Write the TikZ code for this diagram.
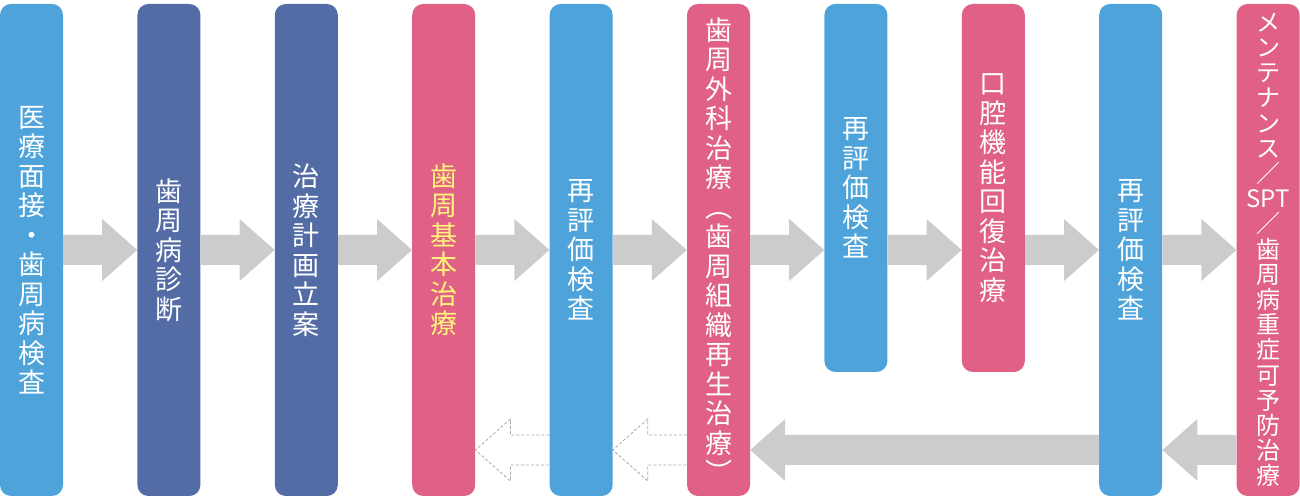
\documentclass[tikz,border=0pt]{standalone}
\usepackage{fontspec}
\setmainfont{Noto Sans CJK JP}
\usepackage{tikz}
\usetikzlibrary{calc,positioning}

\definecolor{stageblue}{HTML}{4EA3DA}
\definecolor{stagenavy}{HTML}{546CA6}
\definecolor{stagepink}{HTML}{E06086}
\definecolor{flowgray}{HTML}{CCCCCC}
\definecolor{dashgray}{HTML}{A8A8A8}
\definecolor{markyellow}{HTML}{FFF47A}

\begin{document}
\begin{tikzpicture}[x=1pt,y=1pt]
	\tikzset{
		stage/.style={rounded corners=11pt,minimum width=63pt,minimum height=492pt,inner sep=0pt,
			text=white,align=center,font=\fontsize{27}{29.5}\selectfont},
		shortstage/.style={stage,minimum height=368pt},
		blockarrow/.style={to path={
			($(\tikztostart)+(0,15)$) -- ($(\tikztotarget)!35pt!(\tikztostart)+(0,15)$)
			-- ($(\tikztotarget)!35pt!(\tikztostart)+(0,31)$) -- (\tikztotarget)
			-- ($(\tikztotarget)!35pt!(\tikztostart)+(0,-31)$) -- ($(\tikztotarget)!35pt!(\tikztostart)+(0,-15)$)
			-- ($(\tikztostart)+(0,-15)$)}},
		flow/.style={blockarrow,fill=flowgray},
		flowback/.style={blockarrow,draw=dashgray,dashed,dash pattern=on 3pt off 2pt,line width=0.8pt}
	}
	\useasboundingbox (0,0) rectangle (1300,500);

	%% stages
	\node[stage,fill=stageblue] (c1) at (31.5,250) {医\\療\\面\\接\\・\\歯\\周\\病\\検\\査};
	\node[stage,fill=stagenavy] (c2) at (168.9,250) {歯\\周\\病\\診\\断};
	\node[stage,fill=stagenavy] (c3) at (306.3,250) {治\\療\\計\\画\\立\\案};
	\node[stage,fill=stagepink,text=markyellow] (c4) at (443.7,250) {歯\\周\\基\\本\\治\\療};
	\node[stage,fill=stageblue] (c5) at (581.1,250) {再\\評\\価\\検\\査};
	\node[stage,fill=stagepink] (c6) at (718.5,250) {歯\\周\\外\\科\\治\\療\\︵\\歯\\周\\組\\織\\再\\生\\治\\療\\︶};
	\node[shortstage,fill=stageblue] (c7) at (855.9,312) {再\\評\\価\\検\\査};
	\node[shortstage,fill=stagepink] (c8) at (993.3,312) {口\\腔\\機\\能\\回\\復\\治\\療};
	\node[stage,fill=stageblue] (c9) at (1130.7,250) {再\\評\\価\\検\\査};
	\node[stage,fill=stagepink,font=\fontsize{24}{25.2}\selectfont] (c10) at (1268.1,250)
		{メ\\ン\\テ\\ナ\\ン\\ス\\／\\SPT\\／\\歯\\周\\病\\重\\症\\可\\予\\防\\治\\療};

	%% forward flow
	\path[flow] (c1.east) to (c2.west);
	\path[flow] (c2.east) to (c3.west);
	\path[flow] (c3.east) to (c4.west);
	\path[flow] (c4.east) to (c5.west);
	\path[flow] (c5.east) to (c6.west);
	\path[flow] (c6.east) to (c7.west |- c6.east);
	\path[flow] (c7.east |- c6.east) to (c8.west |- c6.east);
	\path[flow] (c8.east |- c6.east) to (c9.west);
	\path[flow] (c9.east) to (c10.west);

	%% way back
	\coordinate (back) at (0,50);
	\path[flow] (c10.west |- back) to (c9.east |- back);
	\path[flow] (c9.west |- back) to (c6.east |- back);
	\path[flowback] (c6.west |- back) to (c5.east |- back);
	\path[flowback] (c5.west |- back) to (c4.east |- back);
\end{tikzpicture}
\end{document}
